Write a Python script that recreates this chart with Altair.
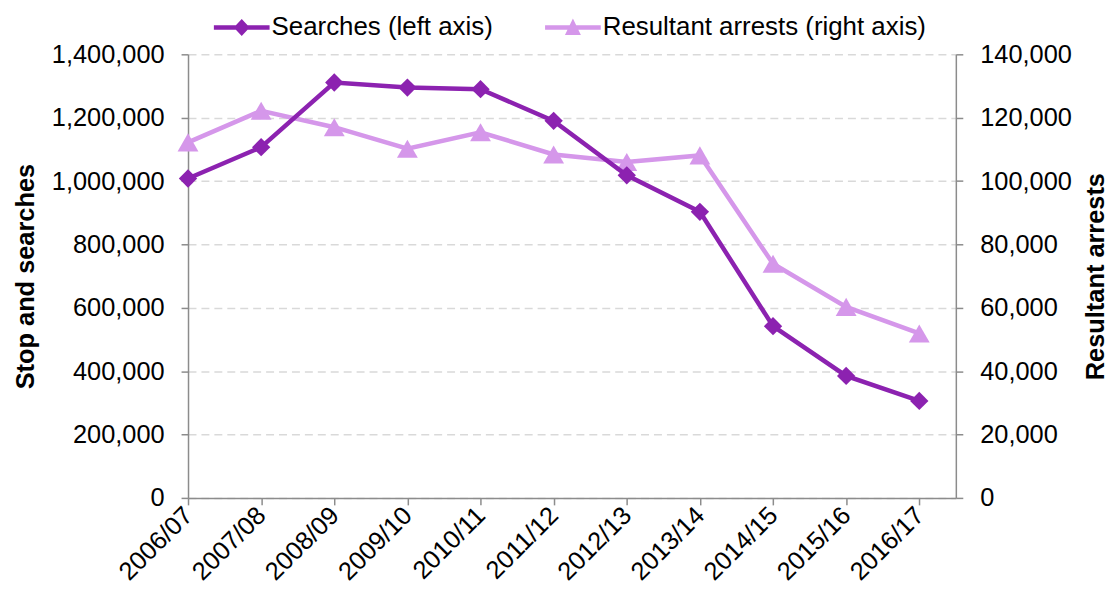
import json
import altair as alt
import pandas as pd

periods = ["2006/07", "2007/08", "2008/09", "2009/10", "2010/11", "2011/12",
           "2012/13", "2013/14", "2014/15", "2015/16", "2016/17"]
searches = [1008000, 1107000, 1311000, 1295000, 1290000, 1190000,
            1018000, 903000, 542000, 385000, 306000]
arrests = [112200, 122200, 117000, 110200, 115400, 108400,
           106000, 108100, 73900, 60300, 51900]

series_names = ["Searches (left axis)", "Resultant arrests (right axis)"]
dark = "#8C22B0"
light = "#D597EA"
FONT = "Liberation Sans"
FS = 25.5

df = pd.DataFrame({"period": periods, "idx": list(range(len(periods))),
                   "searches": searches, "arrests": arrests})
legend_df = pd.DataFrame({"series": series_names, "idx": [0, 0],
                          "searches": [searches[0], searches[0]]})

label_expr = json.dumps(periods) + "[datum.value]"

x_enc = alt.X("idx:Q",
              scale=alt.Scale(domain=[0, len(periods) - 0.5], nice=False, zero=False),
              axis=alt.Axis(values=list(range(len(periods))), labelExpr=label_expr,
                            title=None, labelAngle=-45, labelAlign="right",
                            labelBaseline="middle", labelPadding=6,
                            labelFontSize=FS, labelFont=FONT, labelColor="black",
                            tickSize=7, tickColor="#8c8c8c", tickWidth=1.5,
                            domainColor="#8c8c8c", domainWidth=1.5, grid=False,
                            labelOverlap=False, labelBound=False, labelFlush=False))

left_axis = alt.Axis(values=[0, 200000, 400000, 600000, 800000, 1000000, 1200000, 1400000],
                     format=",d", title="Stop and searches", titleFontSize=FS,
                     titleFont=FONT, titleFontWeight="bold", titleColor="black",
                     titlePadding=13, labelFontSize=FS, labelFont=FONT,
                     labelColor="black", labelPadding=17, tickSize=7,
                     tickColor="#8c8c8c", tickWidth=1.5, domainColor="#8c8c8c",
                     domainWidth=1.5, grid=True, gridColor="#d9d9d9",
                     gridDash=[8, 5], gridWidth=1.5)
right_axis = alt.Axis(values=[0, 20000, 40000, 60000, 80000, 100000, 120000, 140000],
                      format=",d", title="Resultant arrests", titleFontSize=FS,
                      titleFont=FONT, titleFontWeight="bold", titleColor="black",
                      titleAngle=270, titleX=140, titleY=223, titleAlign="center",
                      titleBaseline="middle", labelFontSize=FS,
                      labelFont=FONT, labelColor="black", labelPadding=17,
                      tickSize=7, tickColor="#8c8c8c", tickWidth=1.5,
                      domainColor="#8c8c8c", domainWidth=1.5, grid=False,
                      orient="right")

y_left = alt.Y("searches:Q", scale=alt.Scale(domain=[0, 1400000], nice=False), axis=left_axis)
y_right = alt.Y("arrests:Q", scale=alt.Scale(domain=[0, 140000], nice=False), axis=right_axis)

base = alt.Chart(df)
line_s = base.mark_line(color=dark, strokeWidth=4.5).encode(x=x_enc, y=y_left)
pts_s = base.mark_point(shape="diamond", filled=True, size=340, opacity=1,
                        color=dark).encode(x=x_enc, y=y_left)

# legend symbols: unit = 10px (symbolSize 400); line from -10px to +46px
diamond_path = ("M-1,-0.22L4.6,-0.22L4.6,0.22L-1,0.22Z"
                "M1.8,-0.85L2.6,0L1.8,0.85L1,0Z")
triangle_path = ("M-1,-0.22L4.6,-0.22L4.6,0.22L-1,0.22Z"
                 "M1.8,-0.9L2.6,0.75L1,0.75Z")

leg = alt.Legend(title=None, orient="none", direction="horizontal",
                 legendX=23, legendY=-40, labelFontSize=26,
                 labelFont=FONT, labelColor="black",
                 labelLimit=600, symbolSize=400,
                 symbolOpacity=1, symbolStrokeWidth=0,
                 labelOffset=35, columnPadding=49, padding=0)

legend_layer = alt.Chart(legend_df).mark_point(filled=True).encode(
    x=alt.X("idx:Q"),
    y=alt.Y("searches:Q"),
    opacity=alt.value(0),
    color=alt.Color("series:N",
                    scale=alt.Scale(domain=series_names, range=[dark, light]),
                    legend=leg),
    shape=alt.Shape("series:N",
                    scale=alt.Scale(domain=series_names, range=[diamond_path, triangle_path]),
                    legend=leg),
)

line_a = base.mark_line(color=light, strokeWidth=4.5).encode(x=x_enc, y=y_right)
pts_a = base.mark_point(shape="triangle-up", filled=True, size=440, opacity=1,
                        color=light).encode(x=x_enc, y=y_right)

left = alt.layer(line_s, pts_s, legend_layer)
right = alt.layer(line_a, pts_a)

chart = alt.layer(right, left).resolve_scale(y="independent").properties(
    width=772, height=446,
    padding={"left": 5, "top": 5, "right": 0, "bottom": 0},
).configure_view(stroke=None)

chart.save("out.html", embed_options={"renderer": "svg", "actions": False})
